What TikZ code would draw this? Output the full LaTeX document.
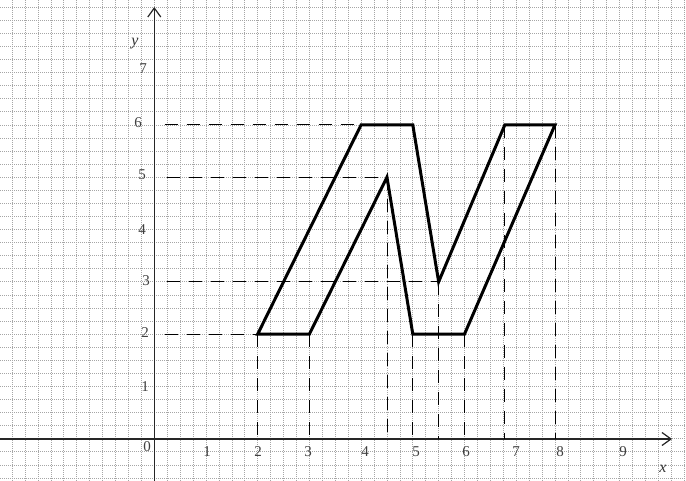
\documentclass[tikz,border=0pt]{standalone}
\usepackage{fontspec}
\setmainfont{Liberation Serif}
\usetikzlibrary{arrows.meta}
\begin{document}
\begin{tikzpicture}[x=1pt,y=-1pt,
  gridline/.style={gray!70, line width=0.7pt, dash pattern=on 1pt off 1pt},
  axisline/.style={black!85, line width=1.6pt},
  helper/.style={black, line width=0.9pt, dash pattern=on 13pt off 9pt},
  outline/.style={black, line width=3pt, line join=miter},
  lab/.style={font=\fontsize{15}{17}\selectfont, text=black!75, inner sep=0pt},
  axlab/.style={font=\fontsize{16}{17}\selectfont\itshape, text=black!80, inner sep=0pt},
  tip/.style={-{Straight Barb[length=9pt,width=13pt,line width=1.2pt]}}
]
\fill[white] (0,0) rectangle (686,481);
\useasboundingbox (0,0) rectangle (686,481);
\begin{scope}
\clip (0,0) rectangle (686,481);
\foreach \i in {-12,...,41} \draw[gridline] ({154.3+12.925*\i},0) -- ({154.3+12.925*\i},481);
\foreach \j in {-3,...,34} \draw[gridline] (0,{438.7-13.075*\j}) -- (686,{438.7-13.075*\j});
\end{scope}

% axes
\coordinate (xs) at (0,439);
\coordinate (xe) at (672,439);
\coordinate (ys) at (154.3,481);
\coordinate (ye) at (154.3,7);
\draw[axisline, tip] (xs) -- (xe);
\draw[axisline, tip] (ys) -- (ye);

\begin{scope}[shift={(154.3,438.7)}, x=51.7pt, y=52.3pt]
\coordinate (A) at (2,2);
\coordinate (B) at (4,6);
\coordinate (C) at (5,6);
\coordinate (D) at (5.5,3);
\coordinate (E) at (6.78,6);
\coordinate (F) at (7.75,6);
\coordinate (G) at (6,2);
\coordinate (H) at (5,2);
\coordinate (I) at (4.5,5);
\coordinate (J) at (3,2);
% helper points on the axes
\coordinate (h6) at (0.2,6);
\coordinate (h5) at (0.24,5);
\coordinate (h3) at (0.24,3);
\coordinate (h2) at (0.2,2);
\coordinate (vA) at (2,0);
\coordinate (vJ) at (3,0);
\coordinate (vI) at (4.5,0);
\coordinate (vH) at (5,0);
\coordinate (vD) at (5.5,0);
\coordinate (vG) at (6,0);
\coordinate (vE) at (6.78,0);
\coordinate (vF) at (7.75,0);
\draw[helper] (h6) -- (B);
\draw[helper] (h5) -- (I);
\draw[helper] (h3) -- (D);
\draw[helper] (h2) -- (A);
\draw[helper] (A) -- (vA);
\draw[helper] (J) -- (vJ);
\draw[helper] (I) -- (vI);
\draw[helper] (H) -- (vH);
\draw[helper] (D) -- (vD);
\draw[helper] (G) -- (vG);
\draw[helper] (E) -- (vE);
\draw[helper] (F) -- (vF);
\draw[outline] (A) -- (B) -- (C) -- (D) -- (E) -- (F) -- (G) -- (H) -- (I) -- (J) -- cycle;
\end{scope}

% labels
\node[lab] (l0) at (147,447) {0};
\node[lab] (lx1) at (207,452) {1};
\node[lab] (lx2) at (258,452) {2};
\node[lab] (lx3) at (308,452) {3};
\node[lab] (lx4) at (365,452) {4};
\node[lab] (lx5) at (416,452) {5};
\node[lab] (lx6) at (466,452) {6};
\node[lab] (lx7) at (516,452) {7};
\node[lab] (lx8) at (560,452) {8};
\node[lab] (lx9) at (623,452) {9};
\node[axlab] (lx) at (663,469) {x};
\node[axlab] (ly) at (135,44) {y};
\node[lab] (ly7) at (143,69) {7};
\node[lab] (ly6) at (138,123) {6};
\node[lab] (ly5) at (142,175) {5};
\node[lab] (ly4) at (142,230) {4};
\node[lab] (ly3) at (146,281) {3};
\node[lab] (ly2) at (145,333) {2};
\node[lab] (ly1) at (145,387) {1};
\end{tikzpicture}
\end{document}
